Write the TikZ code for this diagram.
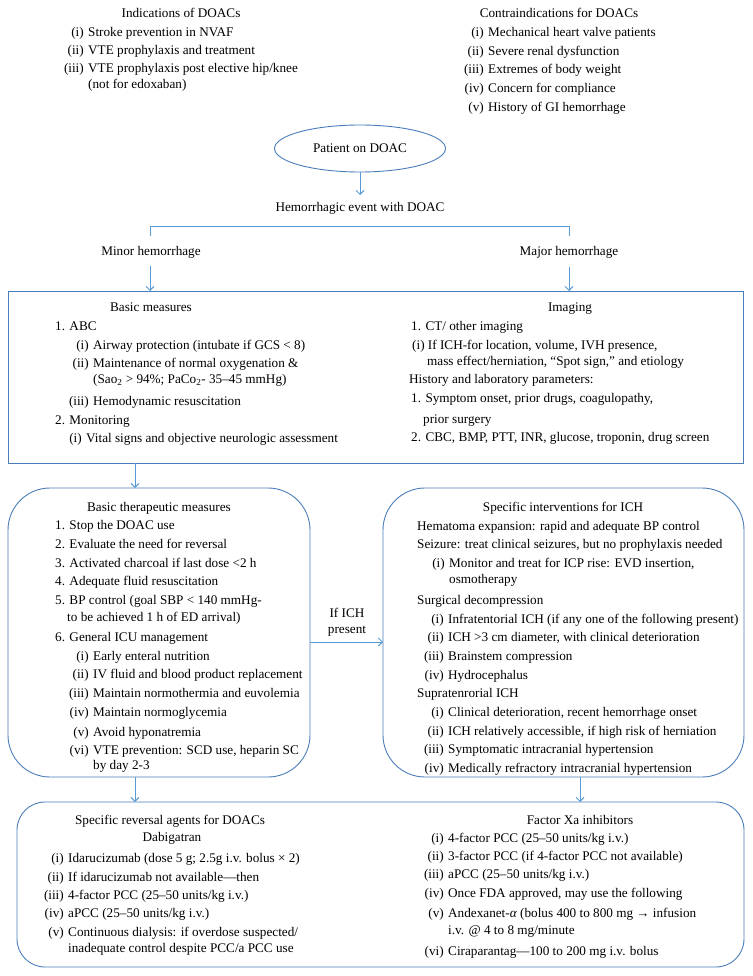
\documentclass[tikz,border=0pt]{standalone}
\usepackage{fontspec}
\setmainfont{Liberation Serif}
\usetikzlibrary{arrows.meta,shapes.geometric}
\definecolor{boxblue}{RGB}{74,126,187}
\definecolor{arrblue}{RGB}{91,155,213}
\tikzset{
  boxline/.style={draw=boxblue,line width=0.9pt},
  conn/.style={draw=arrblue,line width=0.9pt},
  arr/.style={conn,-{Straight Barb[length=4pt,width=8pt]}},
  tx/.style={inner sep=0pt,font=\fontsize{13.2}{15}\selectfont},
}
\newcommand{\tl}[3]{\node[tx,anchor=base west] at (#1,#2+4.5) {#3};}
\newcommand{\tc}[3]{\node[tx,anchor=base] at (#1,#2+4.5) {#3};}
\newcommand{\itm}[4]{\node[tx,anchor=base east] at (#1-4,#2+4.5) {#3};\node[tx,anchor=base west] at (#1,#2+4.5) {#4};}
\begin{document}
\begin{tikzpicture}[x=1pt,y=-1pt]
\useasboundingbox (0,0) rectangle (752,976);
\fill[white] (0,0) rectangle (752,976);

% Indications
\tc{181}{13}{Indications of DOACs}
\itm{88}{32}{(i)}{Stroke prevention in NVAF}
\itm{88}{50}{(ii)}{VTE prophylaxis and treatment}
\itm{88}{68}{(iii)}{VTE prophylaxis post elective hip/knee}
\tl{88}{84}{(not for edoxaban)}

% Contraindications
\tc{559}{13}{Contraindications for DOACs}
\itm{488}{32}{(i)}{Mechanical heart valve patients}
\itm{488}{51}{(ii)}{Severe renal dysfunction}
\itm{488}{69}{(iii)}{Extremes of body weight}
\itm{488}{88}{(iv)}{Concern for compliance}
\itm{488}{107}{(v)}{History of GI hemorrhage}

% Patient
\node[ellipse,boxline,minimum width=171pt,minimum height=47pt,tx] (pat) at (360,148.5) {Patient on DOAC};
\node[tx] (hem) at (360,208) {Hemorrhagic event with DOAC};
\draw[arr] (pat.south) -- (360,195);

\node[tx] (minor) at (151,252) {Minor hemorrhage};
\node[tx] (major) at (569,252) {Major hemorrhage};
\coordinate (jl) at (150,226);
\coordinate (jr) at (569,226);
\draw[conn] (150,236) -- (jl) -- (jr) -- (569,236);

% Basic measures box
\draw[boxline] (8,291) rectangle (743,463);
\draw[arr] (150,266) -- (150,291);
\draw[arr] (569,267) -- (569,291);

\tc{151}{307}{Basic measures}
\tl{55}{326}{1. ABC}
\itm{93}{345}{(i)}{Airway protection (intubate if GCS \textless{} 8)}
\itm{93}{363}{(ii)}{Maintenance of normal oxygenation \&}
\tl{93}{379}{(Sao\textsubscript{2} > 94\%; PaCo\textsubscript{2}- 35–45 mmHg)}
\itm{93}{401}{(iii)}{Hemodynamic resuscitation}
\tl{55}{420}{2. Monitoring}
\itm{86}{438}{(i)}{Vital signs and objective neurologic assessment}

\tc{570}{307}{Imaging}
\tl{411}{326}{1. CT/ other imaging}
\tl{412}{345}{(i) If ICH-for location, volume, IVH presence,}
\tl{427}{361}{mass effect/herniation, “Spot sign,” and etiology}
\tl{409}{379}{History and laboratory parameters:}
\tl{411}{398}{1. Symptom onset, prior drugs, coagulopathy,}
\tl{423}{419}{prior surgery}
\tl{411}{437}{2. CBC, BMP, PTT, INR, glucose, troponin, drug screen}

% Basic therapeutic measures
\draw[boxline,rounded corners=42pt] (8,488) rectangle (310,777);
\draw[arr] (135,463) -- (135,488);
\tc{159}{507}{Basic therapeutic measures}
\tl{55}{525}{1. Stop the DOAC use}
\tl{55}{544}{2. Evaluate the need for reversal}
\tl{55}{563}{3. Activated charcoal if last dose <2 h}
\tl{55}{581}{4. Adequate fluid resuscitation}
\tl{55}{600}{5. BP control (goal SBP \textless{} 140 mmHg-}
\tl{67}{617}{to be achieved 1 h of ED arrival)}
\tl{55}{637}{6. General ICU management}
\itm{93}{656}{(i)}{Early enteral nutrition}
\itm{93}{674}{(ii)}{IV fluid and blood product replacement}
\itm{93}{693}{(iii)}{Maintain normothermia and euvolemia}
\itm{93}{712}{(iv)}{Maintain normoglycemia}
\itm{93}{732}{(v)}{Avoid hyponatremia}
\itm{93}{750}{(vi)}{VTE prevention: SCD use, heparin SC}
\tl{93}{765}{by day 2-3}

% If ICH present
\node[tx,align=center] (ich) at (347,622) {If ICH\\[1pt]present};
\draw[arr] (310,642) -- (383,642);

% Specific interventions
\draw[boxline,rounded corners=42pt] (383,488) rectangle (744,777);
\tc{563}{507}{Specific interventions for ICH}
\tl{417}{526}{Hematoma expansion: rapid and adequate BP control}
\tl{417}{544}{Seizure: treat clinical seizures, but no prophylaxis needed}
\itm{449}{563}{(i)}{Monitor and treat for ICP rise: EVD insertion,}
\tl{449}{579}{osmotherapy}
\tl{417}{600}{Surgical decompression}
\itm{448}{619}{(i)}{Infratentorial ICH (if any one of the following present)}
\itm{448}{637}{(ii)}{ICH >3 cm diameter, with clinical deterioration}
\itm{448}{656}{(iii)}{Brainstem compression}
\itm{448}{675}{(iv)}{Hydrocephalus}
\tl{417}{693}{Supratenrorial ICH}
\itm{448}{712}{(i)}{Clinical deterioration, recent hemorrhage onset}
\itm{448}{731}{(ii)}{ICH relatively accessible, if high risk of herniation}
\itm{448}{749}{(iii)}{Symptomatic intracranial hypertension}
\itm{448}{768}{(iv)}{Medically refractory intracranial hypertension}

% Bottom box
\draw[boxline,rounded corners=28pt] (17,802) rectangle (744,967);
\draw[arr] (135,777) -- (135,802);
\draw[arr] (580,777) -- (580,802);

\tc{170}{820}{Specific reversal agents for DOACs}
\tc{172}{837}{Dabigatran}
\itm{68}{858}{(i)}{Idarucizumab (dose 5 g; 2.5g i.v. bolus × 2)}
\itm{68}{877}{(ii)}{If idarucizumab not available—then}
\itm{68}{895}{(iii)}{4-factor PCC (25–50 units/kg i.v.)}
\itm{68}{913}{(iv)}{aPCC (25–50 units/kg i.v.)}
\itm{68}{932}{(v)}{Continuous dialysis: if overdose suspected/}
\tl{68}{948}{inadequate control despite PCC/a PCC use}

\tc{580}{820}{Factor Xa inhibitors}
\itm{448}{838}{(i)}{4-factor PCC (25–50 units/kg i.v.)}
\itm{448}{856}{(ii)}{3-factor PCC (if 4-factor PCC not available)}
\itm{448}{874}{(iii)}{aPCC (25–50 units/kg i.v.)}
\itm{448}{893}{(iv)}{Once FDA approved, may use the following}
\itm{448}{913}{(v)}{Andexanet-\textit{α} (bolus 400 to 800 mg → infusion}
\tl{448}{930}{i.v. @ 4 to 8 mg/minute}
\itm{448}{951}{(vi)}{Ciraparantag—100 to 200 mg i.v. bolus}
\end{tikzpicture}
\end{document}
